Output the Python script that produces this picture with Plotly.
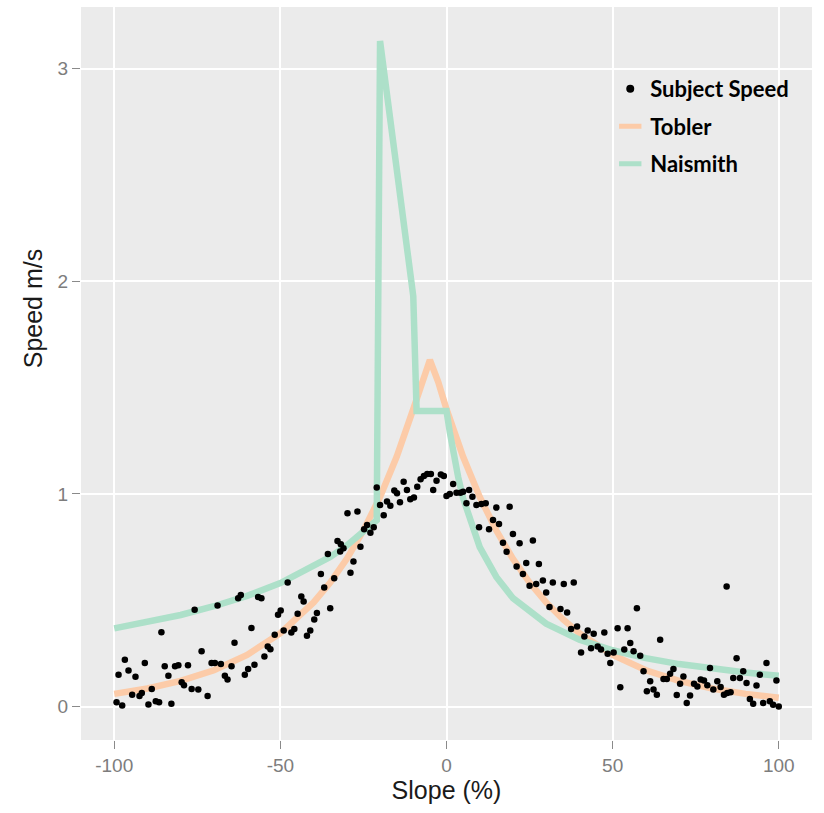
import plotly.graph_objects as go

# ---------------- data ----------------
subject_slope = [
    -99.3, -98.7, -97.6, -96.8, -95.7, -94.6, -93.6, -92.4, -91.7, -90.8, -89.7, -88.7, -87.5, -86.5,
    -85.8, -84.8, -83.7, -82.8, -81.7, -80.7, -79.7, -79.0, -77.8, -76.7, -75.8, -74.7, -73.7, -71.9,
    -70.7, -69.7, -68.9, -67.9, -66.7, -65.9, -64.7, -63.8, -62.7, -61.9, -60.7, -59.7, -58.7, -57.8,
    -56.7, -55.7, -54.8, -53.8, -53.0, -51.7, -50.7, -49.9, -49.0, -47.8, -46.7, -45.8, -44.8, -43.7,
    -43.0, -42.0, -41.0, -39.8, -39.0, -37.8, -36.8, -35.7, -35.0, -33.8, -32.8, -32.0, -31.8, -31.0,
    -29.8, -28.9, -28.0, -26.8, -25.9, -24.8, -23.9, -22.9, -21.9, -21.0, -20.0, -18.9, -17.9, -16.9,
    -15.7, -14.9, -14.0, -12.9, -11.9, -10.9, -9.8, -8.8, -7.8, -6.8, -5.8, -4.7, -4.0, -3.0, -1.7,
    -0.8, 0.0, 1.0, 2.0, 3.0, 4.2, 5.0, 6.0, 6.8, 7.8, 9.0, 9.8, 10.5, 11.8, 12.8, 14.0, 15.0, 15.8,
    17.0, 18.1, 19.0, 20.0, 21.1, 22.0, 23.0, 24.0, 25.0, 26.0, 27.0, 27.8, 29.0, 30.0, 31.0, 32.0,
    34.3, 35.3, 36.3, 37.5, 38.3, 39.3, 40.5, 41.5, 42.5, 43.5, 44.3, 45.5, 46.5, 47.5, 48.5, 49.3,
    50.3, 51.5, 52.3, 53.5, 54.5, 55.3, 56.3, 57.3, 58.3, 59.3, 60.3, 61.3, 62.3, 63.3, 64.3, 65.3,
    66.3, 67.3, 68.3, 69.3, 70.3, 71.3, 72.3, 73.3, 74.5, 75.5, 76.5, 77.5, 78.5, 79.3, 80.3, 81.5,
    82.5, 83.5, 84.3, 84.5, 85.5, 86.3, 87.3, 88.3, 89.3, 90.3, 91.3, 92.3, 93.3, 94.3, 95.3, 96.3,
    97.3, 98.3, 99.3, 100.0,
]
subject_speed = [
    0.020, 0.150, 0.005, 0.220, 0.170, 0.056, 0.140, 0.050, 0.064, 0.205, 0.010, 0.083, 0.025, 0.020,
    0.350, 0.190, 0.145, 0.014, 0.190, 0.195, 0.115, 0.100, 0.195, 0.083, 0.455, 0.080, 0.260, 0.050,
    0.205, 0.205, 0.475, 0.200, 0.145, 0.127, 0.190, 0.300, 0.510, 0.525, 0.150, 0.177, 0.370, 0.197,
    0.515, 0.510, 0.236, 0.283, 0.270, 0.338, 0.432, 0.452, 0.358, 0.584, 0.349, 0.365, 0.437, 0.518,
    0.494, 0.333, 0.358, 0.410, 0.440, 0.624, 0.560, 0.718, 0.463, 0.604, 0.779, 0.729, 0.764, 0.745,
    0.909, 0.630, 0.682, 0.917, 0.752, 0.834, 0.854, 0.818, 0.843, 1.030, 0.948, 0.900, 0.964, 0.944,
    1.016, 1.003, 0.961, 1.058, 1.019, 0.975, 0.983, 1.034, 1.069, 1.085, 1.094, 1.094, 1.019, 1.062, 1.092,
    1.085, 0.990, 1.000, 1.047, 1.006, 1.006, 1.011, 0.956, 1.019, 0.987, 0.948, 0.844, 0.953, 0.956, 0.834, 0.878, 0.936, 0.859,
    0.771, 0.728, 0.940, 0.812, 0.659, 0.768, 0.624, 0.675, 0.568, 0.781, 0.577, 0.671, 0.593, 0.537, 0.468, 0.584,
    0.459, 0.577, 0.443, 0.365, 0.584, 0.377, 0.255, 0.330, 0.358, 0.275, 0.343, 0.283, 0.268, 0.349, 0.249, 0.205,
    0.255, 0.369, 0.091, 0.268, 0.369, 0.299, 0.260, 0.463, 0.239, 0.166, 0.072, 0.119, 0.080, 0.056, 0.315, 0.130,
    0.130, 0.155, 0.177, 0.055, 0.108, 0.142, 0.017, 0.052, 0.108, 0.095, 0.127, 0.123, 0.100, 0.182, 0.080, 0.119,
    0.092, 0.056, 0.565, 0.064, 0.067, 0.135, 0.228, 0.135, 0.166, 0.111, 0.036, 0.014, 0.099, 0.150, 0.017, 0.205,
    0.025, 0.009, 0.123, 0.001,
]

tobler_slope = [-100, -90, -80, -70, -60, -50, -40, -35, -30, -25, -20, -15, -10, -7.5, -5, -2.5,
                0, 5, 10, 15, 20, 25, 30, 35, 40, 50, 60, 70, 80, 90, 100]
tobler_speed = [0.060, 0.085, 0.121, 0.171, 0.243, 0.345, 0.490, 0.583, 0.695, 0.828, 0.986, 1.175,
                1.399, 1.527, 1.630, 1.527, 1.399, 1.175, 0.986, 0.828, 0.695, 0.583, 0.490, 0.411,
                0.345, 0.243, 0.171, 0.121, 0.085, 0.060, 0.042]

naismith_slope = [-100, -90, -80, -70, -60, -50, -40, -35, -30, -25, -22, -21, -20, -15, -10, -9,
                  0, 1, 2, 3.5, 5, 7.5, 10, 15, 20, 30, 40, 50, 60, 70, 80, 90, 100]
naismith_speed = [0.368, 0.397, 0.431, 0.472, 0.521, 0.581, 0.658, 0.704, 0.758, 0.820, 0.862, 0.877,
                  3.13, 2.50, 1.93, 1.39, 1.39, 1.29, 1.20, 1.08, 0.98, 0.855, 0.75, 0.61, 0.51,
                  0.39, 0.315, 0.265, 0.228, 0.200, 0.178, 0.160, 0.145]

x_ticks = [-100, -50, 0, 50, 100]
y_ticks = [0, 1, 2, 3]

TOBLER_C = "#FCCBA8"
NAISMITH_C = "#ADE0C9"
TITLE_FONT = dict(family="Liberation Sans, Arial, sans-serif", size=25, color="#1a1a1a")

fig = go.Figure()
fig.add_trace(go.Scatter(x=tobler_slope, y=tobler_speed, mode="lines",
                         line=dict(color=TOBLER_C, width=6.5), showlegend=False, hoverinfo="skip"))
fig.add_trace(go.Scatter(x=naismith_slope, y=naismith_speed, mode="lines",
                         line=dict(color=NAISMITH_C, width=6.5), showlegend=False, hoverinfo="skip"))
fig.add_trace(go.Scatter(x=subject_slope, y=subject_speed, mode="markers",
                         marker=dict(color="black", size=6.5), showlegend=False))

# legend entries
fig.add_trace(go.Scatter(x=[None], y=[None], mode="markers", name="Subject Speed",
                         marker=dict(color="black", size=8), legendgroup="a"))
fig.add_trace(go.Scatter(x=[None], y=[None], mode="markers", name="Tobler", legendgroup="b",
                         marker=dict(symbol="line-ew", size=16, line=dict(color=TOBLER_C, width=5))))
fig.add_trace(go.Scatter(x=[None], y=[None], mode="markers", name="Naismith", legendgroup="c",
                         marker=dict(symbol="line-ew", size=16, line=dict(color=NAISMITH_C, width=5))))

axis_common = dict(
    showgrid=True, gridcolor="white", gridwidth=1.6, zeroline=False,
    ticks="outside", ticklen=8, tickwidth=1.4, tickcolor="#8a8a8a",
    tickfont=dict(family="Liberation Sans, Arial, sans-serif", size=19, color="#7d7d7d"),
    showline=False,
)

fig.update_layout(
    width=824, height=813,
    margin=dict(l=81, r=12, t=7, b=73),
    paper_bgcolor="white", plot_bgcolor="#EBEBEB",
    xaxis=dict(range=[-110, 110], tickvals=x_ticks, ticktext=[str(v) for v in x_ticks],
               title=dict(text="Slope (%)", font=TITLE_FONT, standoff=6),
               **axis_common),
    yaxis=dict(range=[-0.157, 3.29], tickvals=y_ticks, ticktext=[str(v) for v in y_ticks],
               **axis_common),
    legend=dict(x=0.724, y=0.917, xanchor="left", yanchor="top", bgcolor="rgba(0,0,0,0)",
                font=dict(family="Lato, Open Sans, sans-serif", size=22, color="black", weight="bold"),
                tracegroupgap=6, itemwidth=30),
    showlegend=True,
    annotations=[dict(text="Speed m/s", xref="paper", yref="paper", x=0, y=0.589,
                      xanchor="center", yanchor="middle", xshift=-48, textangle=-90,
                      showarrow=False, font=TITLE_FONT)],
)

fig.write_html("out.html", config={"displayModeBar": False},
               post_script="document.body.style.margin='0px';document.body.style.overflow='hidden';")
